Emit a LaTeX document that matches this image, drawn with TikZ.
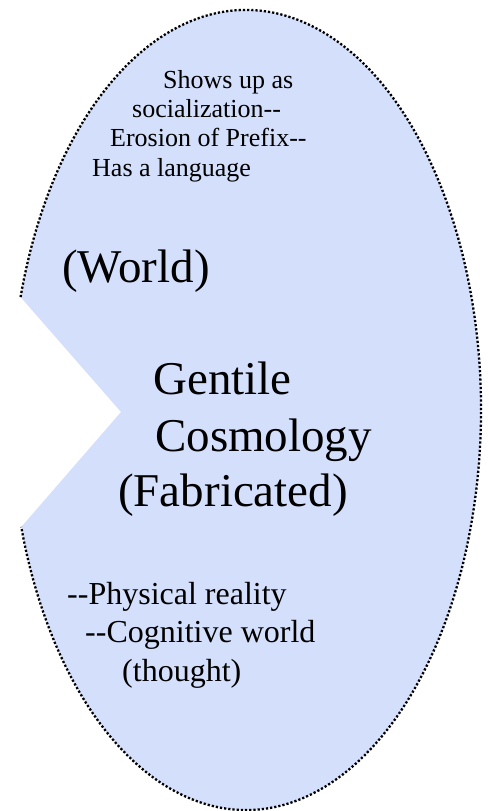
\documentclass[tikz,border=0pt]{standalone}
\usepackage{fontspec}
\setmainfont{Liberation Serif}[Ligatures=TeXOff]
\definecolor{blobblue}{RGB}{211,223,251}
\tikzset{
  blobfill/.style={fill=blobblue, draw=none},
  dotborder/.style={draw=black, line width=2.3pt, dash pattern=on 2.2pt off 2.0pt},
  smalltxt/.style={anchor=base west, inner sep=0pt, font=\fontsize{26}{30}\selectfont},
  bigtxt/.style={anchor=base west, inner sep=0pt, font=\fontsize{47}{56}\selectfont},
  midtxt/.style={anchor=base west, inner sep=0pt, font=\fontsize{32}{38}\selectfont}
}
\begin{document}
\begin{tikzpicture}[x=1pt,y=1pt]
\useasboundingbox (0,0) rectangle (489,811);
\coordinate (c) at (246,401);
\path (c) ++(163.6:235 and 400) coordinate (nt);
\coordinate (vx) at (121,399);
\fill[blobfill] (nt) arc[start angle=163.6, end angle=-163, x radius=235, y radius=400] coordinate (nb) -- (vx) -- cycle;
\draw[dotborder] (nt) arc[start angle=163.6, end angle=-163, x radius=235, y radius=400];

\node[smalltxt] (s1) at (163,722) {Shows up as};
\node[smalltxt] (s2) at (132,693) {socialization--};
\node[smalltxt] (s3) at (110,664) {Erosion of Prefix--};
\node[smalltxt] (s4) at (92,634) {Has a language};

\node[bigtxt] (w) at (62,528) {(World)};
\node[bigtxt] (g1) at (153,416) {Gentile};
\node[bigtxt] (g2) at (155,359) {Cosmology};
\node[bigtxt] (g3) at (118,304) {(Fabricated)};

\node[midtxt] (p1) at (67,206) {--Physical reality};
\node[midtxt] (p2) at (85,168) {--Cognitive world};
\node[midtxt] (p3) at (122,129) {(thought)};
\end{tikzpicture}
\end{document}
